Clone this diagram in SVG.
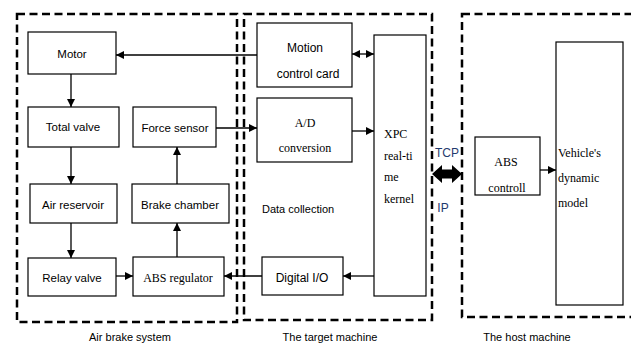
<svg xmlns="http://www.w3.org/2000/svg" width="631" height="343" viewBox="0 0 631 343">
<defs>
<marker id="ah" viewBox="0 0 10 10" refX="10" refY="5" markerWidth="8" markerHeight="8" markerUnits="userSpaceOnUse" orient="auto-start-reverse">
<path d="M0,0 L10,5 L0,10 z" fill="#000"/>
</marker>
<style>
.box{fill:#fff;stroke:#000;stroke-width:1.2}
.dash{fill:none;stroke:#000;stroke-width:2.5;stroke-dasharray:8 4.5}
.sans{font-family:"Liberation Sans",Arial,sans-serif;font-size:11.5px;fill:#000}
.sans12{font-family:"Liberation Sans",Arial,sans-serif;font-size:12px;fill:#000}
.serif{font-family:"Liberation Serif","Times New Roman",serif;font-size:12px;fill:#000}
.cap{font-family:"Liberation Sans",Arial,sans-serif;font-size:11px;fill:#000}
.blue{font-family:"Liberation Sans",Arial,sans-serif;font-size:12px;fill:#1f3a6e}
.c{stroke:#000;stroke-width:1.3;fill:none;marker-end:url(#ah)}
.m{text-anchor:middle}
</style>
</defs>
<rect width="631" height="343" fill="#fff"/>
<g id="groups">
<rect class="dash" x="17" y="14" width="220" height="308"/>
<rect class="dash" x="244" y="14" width="188" height="306"/>
<rect class="dash" x="462" y="14" width="180" height="303"/>
<text class="cap m" x="130" y="341">Air brake system</text>
<text class="cap m" x="330" y="341">The target machine</text>
<text class="cap m" x="527" y="341">The host machine</text>
<text class="cap" x="262" y="213">Data collection</text>
</g>
<g id="connectors">
<line class="c" x1="257" y1="55" x2="116" y2="55"/>
<line class="c" x1="71" y1="74" x2="71" y2="107"/>
<line class="c" x1="71" y1="147" x2="71" y2="184"/>
<line class="c" x1="71" y1="223" x2="71" y2="258"/>
<line class="c" x1="116" y1="276" x2="133" y2="276"/>
<line class="c" x1="177" y1="257" x2="177" y2="223"/>
<line class="c" x1="177" y1="184" x2="177" y2="147"/>
<line class="c" x1="216" y1="128" x2="257" y2="128"/>
<line class="c" x1="352" y1="131" x2="374" y2="131"/>
<line class="c" x1="352" y1="54" x2="374" y2="54" marker-start="url(#ah)"/>
<line class="c" x1="374" y1="276" x2="343" y2="276"/>
<line class="c" x1="262" y1="276" x2="224" y2="276"/>
<line class="c" x1="540" y1="170" x2="556" y2="170"/>
<path d="M432,174 L442,165 L442,169.5 L452,169.5 L452,165 L462,174 L452,183 L452,178.5 L442,178.5 L442,183 z" fill="#000"/>
<text class="blue m" x="447" y="157">TCP</text>
<text class="blue m" x="443" y="212">IP</text>
</g>
<g id="motor"><rect class="box" x="28" y="32" width="88" height="42"/><text class="sans m" x="72" y="58">Motor</text></g>
<g id="total-valve"><rect class="box" x="28" y="107" width="91" height="40"/><text class="sans m" x="73" y="131">Total valve</text></g>
<g id="force-sensor"><rect class="box" x="133" y="107" width="83" height="40"/><text class="sans m" x="175" y="132">Force sensor</text></g>
<g id="air-reservoir"><rect class="box" x="30" y="184" width="87" height="39"/><text class="sans m" x="73" y="209">Air reservoir</text></g>
<g id="brake-chamber"><rect class="box" x="132" y="184" width="97" height="39"/><text class="sans m" x="180" y="209">Brake chamber</text></g>
<g id="relay-valve"><rect class="box" x="28" y="258" width="88" height="38"/><text class="sans m" x="72" y="282">Relay valve</text></g>
<g id="abs-regulator"><rect class="box" x="133" y="257" width="91" height="39"/><text class="serif m" x="178" y="282">ABS regulator</text></g>
<g id="motion-control-card"><rect class="box" x="257" y="23" width="95" height="64"/><text class="sans12 m" x="305" y="52">Motion</text><text class="sans12 m" x="308" y="78">control card</text></g>
<g id="ad-conversion"><rect class="box" x="257" y="98" width="95" height="64"/><text class="serif m" x="305" y="127">A/D</text><text class="serif m" x="305" y="152">conversion</text></g>
<g id="xpc-kernel"><rect class="box" x="374" y="35" width="52" height="261"/><text class="serif" x="384" y="138">XPC</text><text class="serif" x="384" y="160">real-ti</text><text class="serif" x="384" y="181">me</text><text class="serif" x="384" y="203">kernel</text></g>
<g id="digital-io"><rect class="box" x="262" y="257" width="81" height="38"/><text class="sans12 m" x="302" y="282">Digital I/O</text></g>
<g id="abs-controll"><rect class="box" x="475" y="137" width="65" height="58"/><text class="serif m" x="506" y="166">ABS</text><text class="serif m" x="507" y="192">controll</text></g>
<g id="vehicle-model"><rect class="box" x="556" y="42" width="67" height="263"/><text class="serif" x="558" y="157">Vehicle's</text><text class="serif" x="558" y="182">dynamic</text><text class="serif" x="558" y="207">model</text></g>
</svg>
